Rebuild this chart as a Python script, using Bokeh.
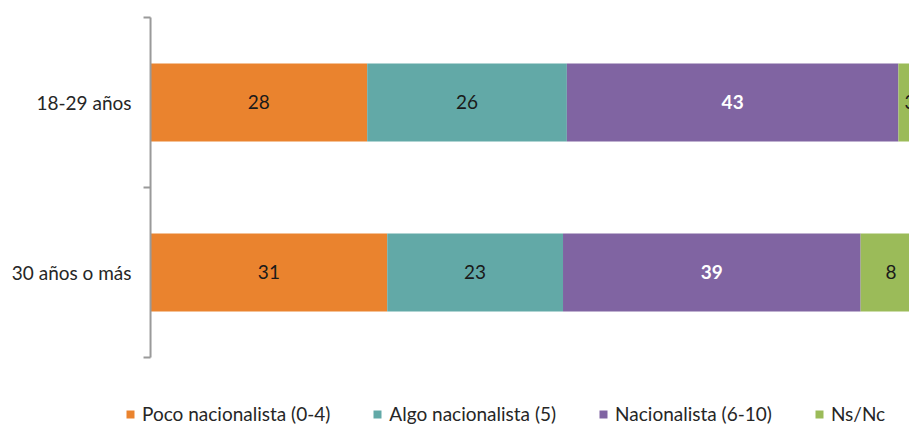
import math
import numpy as np
from bokeh.plotting import figure
from bokeh.models import ColumnDataSource, Range1d, Legend, LegendItem
from bokeh.core.properties import value
from bokeh.embed import file_html
from bokeh.resources import INLINE

# ---- data ----
categories = ["30 años o más", "18-29 años"]          # bottom to top
series = ["Poco nacionalista (0-4)", "Algo nacionalista (5)",
          "Nacionalista (6-10)", "Ns/Nc"]
poco = [30.7, 28.1]
algo = [22.8, 25.9]
nacionalista = [38.6, 43.0]
nsnc = [7.9, 3.0]
colors = ["#EA832E", "#62A9A7", "#8064A2", "#9BBB59"]
label_colors = ["#1a1a1a", "#1a1a1a", "#ffffff", "#1a1a1a"]
label_styles = ["normal", "normal", "bold", "normal"]

keys = ["poco", "algo", "nac", "nsnc"]
ypos = [i + 0.5 for i in range(len(categories))]     # category centres
bounds = list(range(len(categories) + 1))            # category boundaries
source = ColumnDataSource(dict(y=ypos, poco=poco, algo=algo,
                               nac=nacionalista, nsnc=nsnc))

FONT = "Lato"
FS = "19px"
AXIS_COLOR = "#9a9a9a"

p = figure(width=909, height=426,
           x_range=Range1d(-19.46, 98.44), y_range=Range1d(-0.406, 2.1),
           output_backend="svg", toolbar_location=None,
           x_axis_location=None, y_axis_location=None,
           min_border_left=0, min_border_right=0, min_border_top=0,
           min_border_bottom=0)
p.outline_line_color = None
p.xgrid.visible = False
p.ygrid.visible = False

renderers = p.hbar_stack(keys, y="y", height=0.46, color=colors,
                         line_color=None, source=source)

# data labels
vals = np.array([poco, algo, nacionalista, nsnc])
cum = np.cumsum(vals, axis=0)
for i, k in enumerate(keys):
    centers = [float(c) for c in (cum[i] - vals[i] / 2)]
    lsrc = ColumnDataSource(dict(x=centers, y=ypos,
                                 t=[str(int(round(v))) for v in vals[i]]))
    p.text(x="x", y="y", text="t", source=lsrc, text_align="center",
           text_baseline="middle", text_font=value(FONT),
           text_font_size=FS, text_color=label_colors[i],
           text_font_style=label_styles[i])

# category axis (line, boundary ticks, labels)
p.segment(x0=[0], y0=[bounds[0]], x1=[0], y1=[bounds[-1]],
          line_color=AXIS_COLOR, line_width=2)
p.ray(x=[0] * len(bounds), y=bounds, length=7, length_units="screen",
      angle=math.pi, line_color=AXIS_COLOR, line_width=2)
p.text(x=[0] * len(categories), y=ypos, text=categories, x_offset=-19,
       text_align="right", text_baseline="middle", text_font=value(FONT),
       text_font_size=FS, text_color="#262626")

legend = Legend(items=[LegendItem(label=s, renderers=[r]) for s, r in zip(series, renderers)],
                orientation="horizontal", location=(125, 1),
                glyph_width=10, glyph_height=10, label_standoff=7, spacing=42,
                padding=0, margin=0, border_line_color=None,
                background_fill_alpha=0, label_text_font=FONT,
                label_text_font_size=FS, label_text_color="#262626")
p.add_layout(legend, "center")

open("out.html", "w").write(file_html(p, INLINE))
